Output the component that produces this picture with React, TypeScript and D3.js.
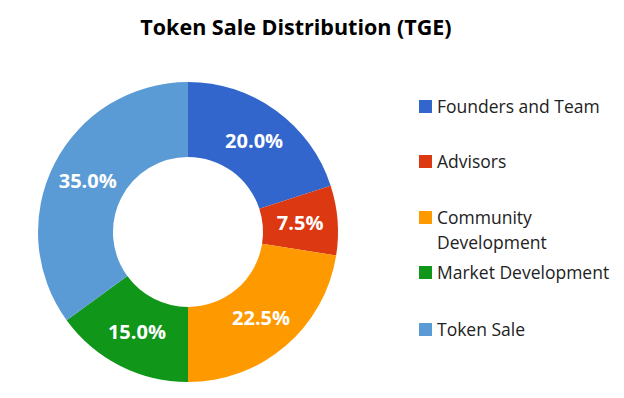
import React from 'react';
import * as d3 from 'd3';

const categories = ['Founders and Team', 'Advisors', 'Community Development', 'Market Development', 'Token Sale'];
const legendLines = [['Founders and Team'], ['Advisors'], ['Community', 'Development'], ['Market Development'], ['Token Sale']];
const shares = [20.0, 7.5, 22.5, 15.0, 35.0];
const colors = ['#3366CC', '#DC3912', '#FF9900', '#109618', '#5B9BD5'];
const legendY = [107, 162, 218, 273, 330];

const width = 624;
const height = 398;

const App: React.FC = () => {
  const cx = 188;
  const cy = 232;
  const outer = 150;
  const inner = 75;

  const pie = d3.pie<number>().sort(null).value(d => d);
  const arcs = pie(shares);
  const arc = d3.arc<d3.PieArcDatum<number>>().innerRadius(inner).outerRadius(outer);

  return (
    <svg width={width} height={height} style={{ position: 'absolute', left: 0, top: 0, background: '#fff' }}
      fontFamily="'Open Sans', 'DejaVu Sans', sans-serif">
      <text x={296} y={35} textAnchor="middle" fontSize={21.5} fontWeight="bold" fill="#000">
        Token Sale Distribution (TGE)
      </text>
      <g transform={`translate(${cx},${cy})`}>
        {arcs.map((a, i) => (
          <path key={categories[i]} d={arc(a) || ''} fill={colors[i]} />
        ))}
        {arcs.map((a, i) => {
          const [x, y] = arc.centroid(a);
          return (
            <text key={'l' + i} x={x} y={y} dy="0.35em" textAnchor="middle" fontSize={20}
              fontWeight="bold" fill="#fff">
              {shares[i].toFixed(1)}%
            </text>
          );
        })}
      </g>
      <g>
        {legendLines.map((lines, i) => (
          <g key={'g' + i}>
            <rect x={419} y={legendY[i] - 7} width={13} height={13} fill={colors[i]} />
            {lines.map((t, j) => (
              <text key={j} x={437} y={legendY[i] + j * 25} dy="0.35em" fontSize={17.5} fill="#222">
                {t}
              </text>
            ))}
          </g>
        ))}
      </g>
    </svg>
  );
};

export default App;
